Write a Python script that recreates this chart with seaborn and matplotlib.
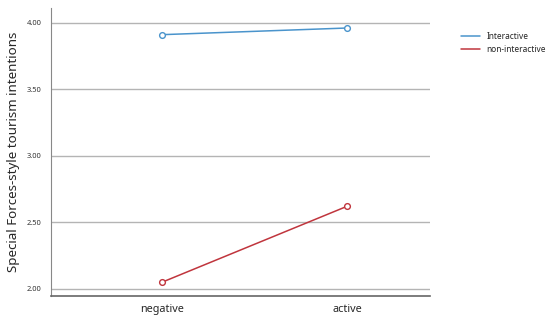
import matplotlib
matplotlib.use("Agg")
import matplotlib.pyplot as plt
from matplotlib.lines import Line2D
import pandas as pd
import seaborn as sns

emotion = ["negative", "active"]
interactive = [3.91, 3.96]
non_interactive = [2.05, 2.62]
groups = ["Interactive", "non-interactive"]
yticks = [2.00, 2.50, 3.00, 3.50, 4.00]

df = pd.DataFrame({
    "emotion": emotion * 2,
    "intention": interactive + non_interactive,
    "group": [groups[0]] * 2 + [groups[1]] * 2,
})

sns.set_style("white")
plt.rcParams["font.family"] = ["Noto Sans", "DejaVu Sans"]
colors = {"Interactive": "#4a94cc", "non-interactive": "#c0353d"}

fig = plt.figure(figsize=(5.5, 3.22), dpi=100)
ax = fig.add_axes([0.093, 0.081, 0.689, 0.894])

for y in yticks:
    ax.axhline(y, color="#b4b4b4", lw=1.0, zorder=0)

sns.lineplot(data=df, x="emotion", y="intention", hue="group", palette=colors,
             lw=1.1, legend=False, ax=ax, zorder=2)
# hollow circle markers
for g in groups:
    sub = df[df["group"] == g]
    sns.scatterplot(data=sub, x="emotion", y="intention", color="white",
                    edgecolor=colors[g], linewidth=1.0, s=17, legend=False,
                    ax=ax, zorder=3)

ax.set_xlim(-0.6, 1.45)
ax.set_ylim(1.947, 4.11)
ax.set_yticks(yticks)
ax.set_yticklabels([f"{v:.2f}" for v in yticks], fontsize=5.4, color="#333333")
ax.tick_params(axis="x", labelsize=7.8, length=0, pad=6)
ax.tick_params(axis="y", length=0, pad=7)
ax.set_xlabel("")
ax.set_ylabel("Special Forces-style tourism intentions", fontsize=9.6, labelpad=5)

for s in ["top", "right"]:
    ax.spines[s].set_visible(False)
ax.spines["left"].set_color("#888888")
ax.spines["left"].set_linewidth(0.8)
ax.spines["bottom"].set_color("#666666")
ax.spines["bottom"].set_linewidth(1.2)

handles = [Line2D([0], [0], color=colors[g], lw=1.1) for g in groups]
fig.legend(handles, groups, loc="upper left", bbox_to_anchor=(0.825, 0.925),
           frameon=False, fontsize=6, handlelength=2.2, labelspacing=0.5)

fig.savefig("out.png", dpi=100)
